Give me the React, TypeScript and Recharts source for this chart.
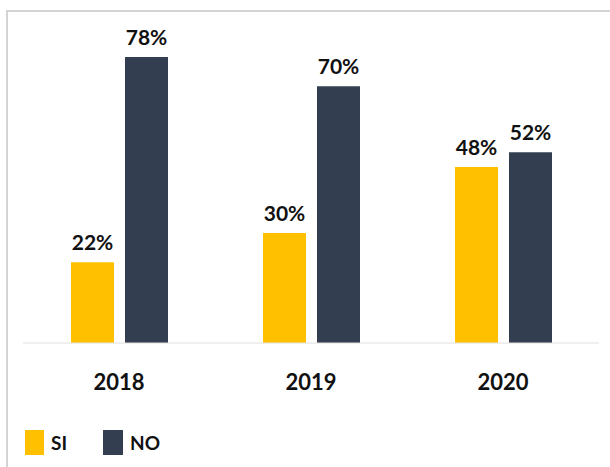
import React from 'react';
import { BarChart, Bar, XAxis, YAxis, LabelList } from 'recharts';

const years = ['2018', '2019', '2020'];
const siValues = [22, 30, 48];
const noValues = [78, 70, 52];

const SI_COLOR = '#FFC000';
const NO_COLOR = '#333F50';
const FONT = 'Lato, "Open Sans", sans-serif';

const data = years.map((year, i) => ({ year, si: siValues[i], no: noValues[i] }));

const labelStyle = { fill: '#111', fontSize: 21, fontWeight: 700, fontFamily: FONT };

const App: React.FC = () => {
  return (
    <div style={{ position: 'absolute', left: 0, top: 0, width: 610, height: 467, background: '#fff', overflow: 'hidden' }}>
      {/* marco gris */}
      <div
        style={{
          position: 'absolute',
          left: 6,
          top: 10,
          width: 620,
          height: 480,
          borderLeft: '2px solid #d4d4d4',
          borderTop: '2px solid #d4d4d4',
        }}
      />
      <div style={{ position: 'absolute', left: 0, top: 0 }}>
        <BarChart
          width={610}
          height={467}
          data={data}
          margin={{ top: 13, right: 11, left: 23, bottom: 0 }}
          barSize={43}
          barGap={11}
        >
          <XAxis
            dataKey="year"
            height={124}
            tickLine={false}
            axisLine={{ stroke: '#e0e0e0' }}
            tickMargin={25}
            tick={{ fill: '#111', fontSize: 22, fontWeight: 700, fontFamily: FONT }}
          />
          <YAxis hide domain={[0, 90]} />
          <Bar dataKey="si" fill={SI_COLOR} isAnimationActive={false}>
            <LabelList
              dataKey="si"
              position="top"
              offset={12}
              formatter={(v: number) => `${v}%`}
              style={labelStyle}
            />
          </Bar>
          <Bar dataKey="no" fill={NO_COLOR} isAnimationActive={false}>
            <LabelList
              dataKey="no"
              position="top"
              offset={12}
              formatter={(v: number) => `${v}%`}
              style={labelStyle}
            />
          </Bar>
        </BarChart>
      </div>
      {/* leyenda */}
      <div
        style={{
          position: 'absolute',
          left: 25,
          top: 430,
          display: 'flex',
          alignItems: 'center',
          fontFamily: FONT,
          fontWeight: 700,
          fontSize: 19,
          color: '#111',
        }}
      >
        <span style={{ display: 'inline-block', width: 19, height: 25, background: SI_COLOR, marginRight: 7 }} />
        <span style={{ marginRight: 36 }}>SI</span>
        <span style={{ display: 'inline-block', width: 20, height: 25, background: NO_COLOR, marginRight: 7 }} />
        <span>NO</span>
      </div>
    </div>
  );
};

export default App;
